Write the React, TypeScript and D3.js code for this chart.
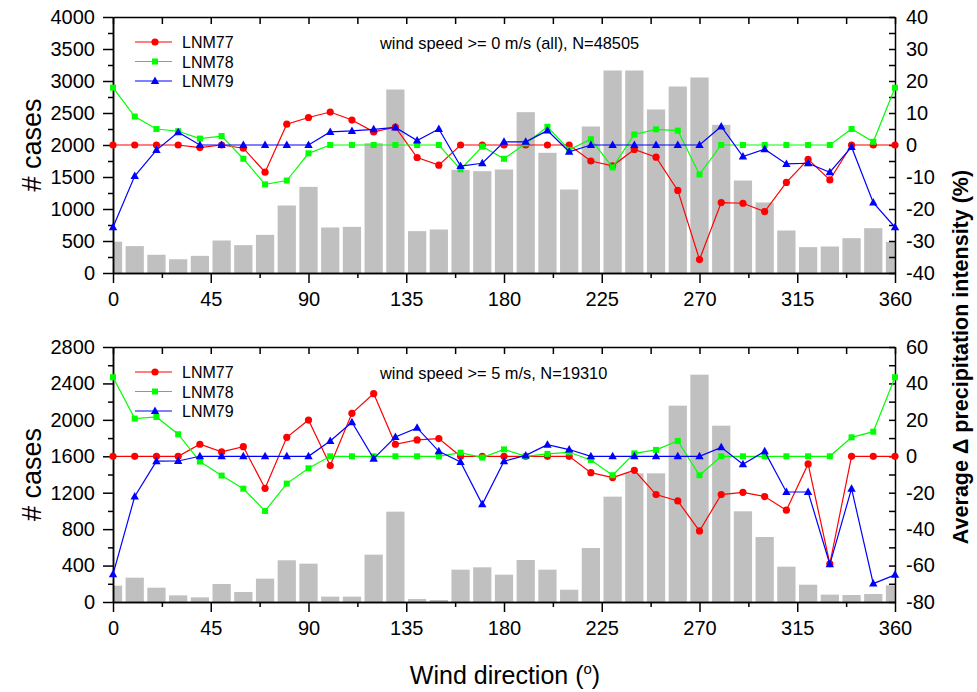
import React, { useEffect, useRef } from "react";
import * as d3 from "d3";

// wind direction bins (deg)
const directions = [
  0, 10, 20, 30, 40, 50, 60, 70, 80, 90, 100, 110, 120, 130, 140, 150, 160, 170, 180,
  190, 200, 210, 220, 230, 240, 250, 260, 270, 280, 290, 300, 310, 320, 330, 340, 350, 360,
];
const xMajor = [0, 45, 90, 135, 180, 225, 270, 315, 360];
const xMinor = [22.5, 67.5, 112.5, 157.5, 202.5, 247.5, 292.5, 337.5];

// top panel: wind speed >= 0 m/s
const casesAll = [
  490, 420, 285, 215, 268, 508, 435, 596, 1055, 1346, 711, 721, 2029, 2867, 654, 680, 1612,
  1591, 1617, 2513, 1878, 1305, 2289, 3164, 3164, 2555, 2914, 3055, 2315, 1445, 1102, 664,
  404, 414, 544, 700, 485,
];
const lnm77All = [
  0, 0, 0, 0, -0.8, 0, -1, -8.5, 6.5, 8.6, 10.3, 7.8, 4.1, 5.6, -3.9, -6.3, 0, 0, 0, 0, 0, 0,
  -5, -6.5, -1.4, -3.8, -14.2, -35.8, -18, -18.2, -20.8, -11.7, -4.5, -10.9, 0, 0, 0,
];
const lnm78All = [
  17.9, 8.9, 5, 4.3, 2, 2.8, -4.3, -12.3, -11.1, -2.6, 0, 0, 0, 0, 0, 0, -7.6, -0.5, -4.3,
  0.5, 5.7, -1.5, 1.8, -7, 3.3, 4.9, 4.5, -9.2, 0, 0, 0, 0, 0, 0, 5, 1, 17.9,
];
const lnm79All = [
  -25.7, -9.7, -1.6, 4, 0, 0, 0, 0, 0, 0, 4.1, 4.4, 4.9, 5.5, 1.4, 5, -6.6, -5.7, 1, 1, 4.5,
  -2.1, 0, 0, 0, 0, 0, 0, 5.8, -3.6, -1.3, -5.9, -5.7, -8.5, -0.6, -18, -25.7,
];
const casesTicksAll = [0, 500, 1000, 1500, 2000, 2500, 3000, 3500, 4000];
const casesMinorAll = [250, 750, 1250, 1750, 2250, 2750, 3250, 3750];
const deltaTicksAll = [-40, -30, -20, -10, 0, 10, 20, 30, 40];
const deltaMinorAll = [-35, -25, -15, -5, 5, 15, 25, 35];

// bottom panel: wind speed >= 5 m/s
const casesStrong = [
  179, 267, 157, 73, 51, 198, 110, 256, 458, 421, 59, 59, 520, 992, 33, 22, 355, 381, 300,
  461, 355, 135, 593, 1157, 1413, 1413, 2156, 2496, 1936, 996, 714, 388, 190, 81, 77, 88, 183,
];
const lnm77Strong = [
  0, 0, 0, 0, 6.6, 2.4, 5.3, -17.6, 10.4, 19.9, -5.1, 23.6, 34.4, 6.6, 9, 9.7, 0, 0, 0, 0, 0,
  0, -9, -11.7, -7.7, -21, -24.5, -41, -21, -19.8, -22.1, -29.6, -4.2, -59, 0, 0, 0,
];
const lnm78Strong = [
  43.4, 20.7, 21.6, 12.1, -2.9, -10.6, -17.8, -30, -15, -6.6, 0, 0, 0, 0, 0, 0, 2, -0.7, 3.8,
  0, 1.3, 2.2, -2, -10.4, 1.6, 3.5, 8.4, -10.4, 0, 0, 0, 0, 0, 0, 10.4, 13.5, 43.4,
];
const lnm79Strong = [
  -64.8, -22.1, -2.7, -2.6, 0, 0, 0, 0, 0, 0, 8.4, 18.7, -1.3, 10.6, 15.6, 2.7, -3.1, -26.4,
  -2.7, 0.5, 6.4, 3.7, 0, 0, 0, 0, 0, 0, 4.9, -4.4, 2.7, -19.6, -19.6, -59.3, -17.8, -69.9,
  -65.1,
];
const casesTicksStrong = [0, 400, 800, 1200, 1600, 2000, 2400, 2800];
const casesMinorStrong = [200, 600, 1000, 1400, 1800, 2200, 2600];
const deltaTicksStrong = [-80, -60, -40, -20, 0, 20, 40, 60];
const deltaMinorStrong = [-70, -50, -30, -10, 10, 30, 50];

const seriesNames = ["LNM77", "LNM78", "LNM79"];
const seriesColors = ["#ff0000", "#00ff00", "#0000ff"];

const FONT = "Arial, 'Liberation Sans', Helvetica, sans-serif";
const X0 = 113;
const X1 = 895;

function marker(g: any, kind: number, cx: number, cy: number, color: string) {
  if (kind === 0) {
    g.append("circle").attr("cx", cx).attr("cy", cy).attr("r", 3.6).attr("fill", color);
  } else if (kind === 1) {
    g.append("rect")
      .attr("x", cx - 3)
      .attr("y", cy - 3)
      .attr("width", 6)
      .attr("height", 6)
      .attr("fill", color);
  } else {
    g.append("path")
      .attr("d", `M${cx},${cy - 4.5}L${cx + 4.2},${cy + 3}L${cx - 4.2},${cy + 3}Z`)
      .attr("fill", color);
  }
}

function drawPanel(svg: any, cfg: any, idx: number) {
  const x = d3.scaleLinear().domain([0, 360]).range([X0, X1]);
  const yL = d3.scaleLinear().domain([0, cfg.casesMax]).range([cfg.bottom, cfg.top]);
  const yR = d3.scaleLinear().domain(cfg.deltaDomain).range([cfg.bottom, cfg.top]);

  const clipId = "clip" + idx;
  svg
    .append("clipPath")
    .attr("id", clipId)
    .append("rect")
    .attr("x", X0)
    .attr("y", cfg.top)
    .attr("width", X1 - X0)
    .attr("height", cfg.bottom - cfg.top);

  // bars
  const barW = x(8.4) - x(0);
  svg
    .append("g")
    .attr("clip-path", `url(#${clipId})`)
    .selectAll("rect")
    .data(cfg.cases)
    .enter()
    .append("rect")
    .attr("x", (d: number, i: number) => x(directions[i]) - barW / 2)
    .attr("y", (d: number) => yL(d))
    .attr("width", barW)
    .attr("height", (d: number) => cfg.bottom - yL(d))
    .attr("fill", "#c0c0c0");

  const styleAxis = (g: any) => {
    g.selectAll("path,line").attr("stroke", "#000").attr("stroke-width", 1.5);
    g.selectAll("text").attr("font-family", FONT).attr("font-size", 20).attr("fill", "#000");
  };
  const fmt = d3.format("d");

  // bottom axis
  svg
    .append("g")
    .attr("transform", `translate(0,${cfg.bottom})`)
    .call(
      d3.axisBottom(x).tickValues(xMajor).tickSizeInner(10).tickSizeOuter(0).tickPadding(9).tickFormat(fmt)
    )
    .call(styleAxis);
  svg
    .append("g")
    .attr("transform", `translate(0,${cfg.bottom})`)
    .call(d3.axisBottom(x).tickValues(xMinor).tickSizeInner(5).tickSizeOuter(0).tickFormat(() => ""))
    .call(styleAxis);
  // top axis
  svg
    .append("g")
    .attr("transform", `translate(0,${cfg.top})`)
    .call(
      d3
        .axisTop(x)
        .tickValues(xMajor.concat(xMinor))
        .tickSizeInner(-7)
        .tickSizeOuter(0)
        .tickFormat(() => "")
    )
    .call(styleAxis);
  // left axis
  svg
    .append("g")
    .attr("transform", `translate(${X0},0)`)
    .call(
      d3.axisLeft(yL).tickValues(cfg.casesTicks).tickSizeInner(10).tickSizeOuter(0).tickPadding(8).tickFormat(fmt)
    )
    .call(styleAxis);
  svg
    .append("g")
    .attr("transform", `translate(${X0},0)`)
    .call(d3.axisLeft(yL).tickValues(cfg.casesMinor).tickSizeInner(5).tickSizeOuter(0).tickFormat(() => ""))
    .call(styleAxis);
  // right axis
  svg
    .append("g")
    .attr("transform", `translate(${X1},0)`)
    .call(
      d3
        .axisRight(yR)
        .tickValues(cfg.deltaTicks.concat(cfg.deltaMinor))
        .tickSizeInner(-6)
        .tickSizeOuter(0)
        .tickPadding(11)
        .tickFormat((d: any) => (cfg.deltaTicks.includes(d) ? String(d) : ""))
    )
    .call(styleAxis);

  // lines
  const series = [cfg.s77, cfg.s78, cfg.s79];
  series.forEach((vals: number[], k: number) => {
    const line = d3
      .line<number>()
      .x((d, i) => x(directions[i]))
      .y((d) => yR(d));
    svg
      .append("path")
      .attr("d", line(vals))
      .attr("fill", "none")
      .attr("stroke", seriesColors[k])
      .attr("stroke-width", 1.2);
    const mg = svg.append("g");
    vals.forEach((v, i) => marker(mg, k, x(directions[i]), yR(v), seriesColors[k]));
  });

  // legend
  seriesNames.forEach((name, k) => {
    const ly = cfg.top + 25 + k * 19.5;
    const lg = svg.append("g");
    lg.append("line")
      .attr("x1", 135)
      .attr("x2", 172)
      .attr("y1", ly)
      .attr("y2", ly)
      .attr("stroke", seriesColors[k])
      .attr("stroke-width", 1.2);
    marker(lg, k, 155, ly, seriesColors[k]);
    lg.append("text")
      .attr("x", 182)
      .attr("y", ly + 6)
      .attr("font-family", FONT)
      .attr("font-size", 16)
      .text(name);
  });

  svg
    .append("text")
    .attr("x", 380)
    .attr("y", cfg.top + 31.5)
    .attr("font-family", FONT)
    .attr("font-size", 16.4)
    .text(cfg.note);

  // y title
  svg
    .append("text")
    .attr("transform", `translate(41,${(cfg.top + cfg.bottom) / 2}) rotate(-90)`)
    .attr("text-anchor", "middle")
    .attr("font-family", FONT)
    .attr("font-size", 27)
    .text("# cases");
}

export default function App() {
  const ref = useRef<SVGSVGElement>(null);

  useEffect(() => {
    const svg = d3.select(ref.current);
    svg.selectAll("*").remove();

    drawPanel(
      svg,
      {
        top: 17,
        bottom: 273,
        casesMax: 4000,
        casesTicks: casesTicksAll,
        casesMinor: casesMinorAll,
        deltaDomain: [-40, 40],
        deltaTicks: deltaTicksAll,
        deltaMinor: deltaMinorAll,
        cases: casesAll,
        s77: lnm77All,
        s78: lnm78All,
        s79: lnm79All,
        note: "wind speed >= 0 m/s (all), N=48505",
      },
      0
    );
    drawPanel(
      svg,
      {
        top: 347,
        bottom: 602,
        casesMax: 2800,
        casesTicks: casesTicksStrong,
        casesMinor: casesMinorStrong,
        deltaDomain: [-80, 60],
        deltaTicks: deltaTicksStrong,
        deltaMinor: deltaMinorStrong,
        cases: casesStrong,
        s77: lnm77Strong,
        s78: lnm78Strong,
        s79: lnm79Strong,
        note: "wind speed >= 5 m/s, N=19310",
      },
      1
    );

    // x title
    const xt = svg
      .append("text")
      .attr("x", 505)
      .attr("y", 684)
      .attr("text-anchor", "middle")
      .attr("font-family", FONT)
      .attr("font-size", 25);
    xt.append("tspan").text("Wind direction (");
    xt.append("tspan").attr("dy", -10).attr("font-size", 15).text("o");
    xt.append("tspan").attr("dy", 10).text(")");

    // right title
    svg
      .append("text")
      .attr("transform", "translate(968,357) rotate(-90)")
      .attr("text-anchor", "middle")
      .attr("font-family", FONT)
      .attr("font-weight", "bold")
      .attr("font-size", 21.5)
      .text("Average \u0394 precipitation intensity (%)");
  }, []);

  return (
    <svg
      ref={ref}
      width={977}
      height={692}
      style={{ position: "absolute", left: 0, top: 0, background: "#fff" }}
    />
  );
}
